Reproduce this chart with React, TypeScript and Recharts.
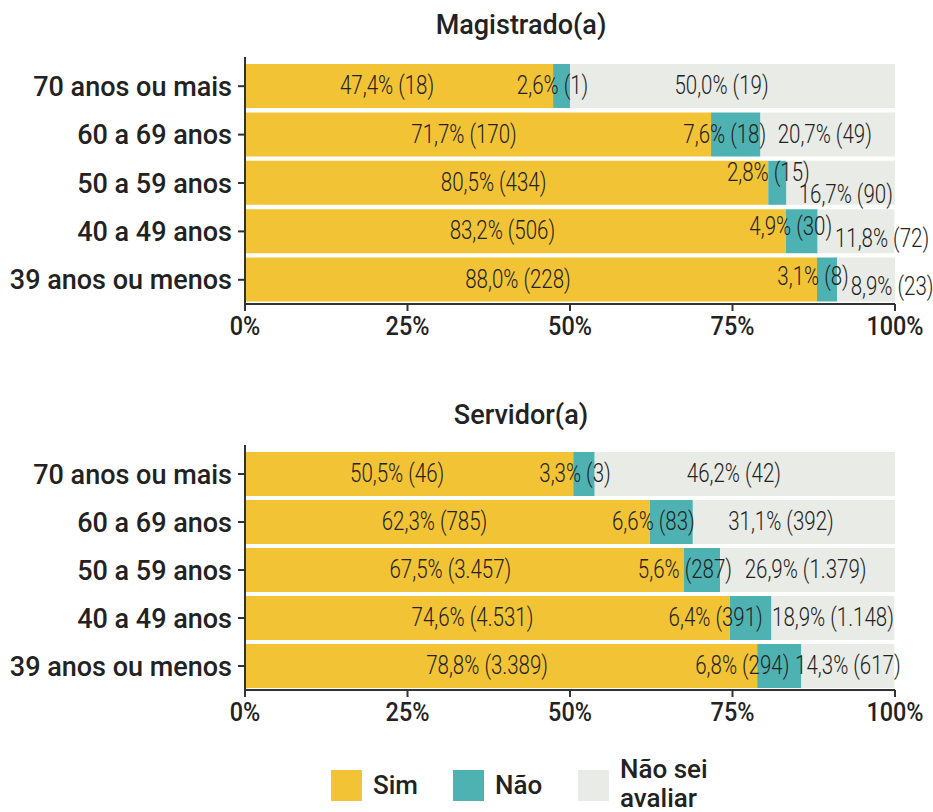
import React from 'react';
import { BarChart, Bar, XAxis, YAxis, LabelList } from 'recharts';

const categories = ['70 anos ou mais', '60 a 69 anos', '50 a 59 anos', '40 a 49 anos', '39 anos ou menos'];
const seriesNames = ['Sim', 'Não', 'Não sei avaliar'];
const xTicks = [0, 25, 50, 75, 100];

const magSimPct = [47.4, 71.7, 80.5, 83.2, 88.0];
const magSimN = [18, 170, 434, 506, 228];
const magNaoPct = [2.6, 7.6, 2.8, 4.9, 3.1];
const magNaoN = [1, 18, 15, 30, 8];
const magNsPct = [50.0, 20.7, 16.7, 11.8, 8.9];
const magNsN = [19, 49, 90, 72, 23];

const serSimPct = [50.5, 62.3, 67.5, 74.6, 78.8];
const serSimN = [46, 785, 3457, 4531, 3389];
const serNaoPct = [3.3, 6.6, 5.6, 6.4, 6.8];
const serNaoN = [3, 83, 287, 391, 294];
const serNsPct = [46.2, 31.1, 26.9, 18.9, 14.3];
const serNsN = [42, 392, 1379, 1148, 617];

const COLORS = ['#F2C335', '#4FB2B2', '#E9EBE7'];
const TEXT = '#222222';
const AXIS = '#333333';

// label nudges (layout only): [dx, dy] per row
const magNudge = {
  sim: [[-12, 0], [-14, 0], [-13, 0], [-13, 0], [-13, 0]],
  nao: [[-9, 0], [-11, 0], [-9, -10], [-11, -4], [-14, -3]],
  ns: [[-11, 0], [-3, 0], [5, 12], [26, 8], [26, 7]],
};
const serNudge = {
  sim: [[-12, 0], [-13, 0], [-14, 0], [-15, 0], [-14, 0]],
  nao: [[-9, 0], [-18, 0], [-17, 0], [-35, 0], [-37, 0]],
  ns: [[-11, 0], [-13, 0], [-2, 0], [0, 0], [0, 0]],
};

const fmtPct = (v: number) => v.toFixed(1).replace('.', ',') + '%';
const fmtN = (n: number) => String(n).replace(/\B(?=(\d{3})+(?!\d))/g, '.');

function build(sp: number[], sn: number[], np: number[], nn: number[], xp: number[], xn: number[]) {
  return categories.map((c, i) => ({
    cat: c,
    sim: sp[i], simN: sn[i],
    nao: np[i], naoN: nn[i],
    ns: xp[i], nsN: xn[i],
  }));
}

const magData = build(magSimPct, magSimN, magNaoPct, magNaoN, magNsPct, magNsN);
const serData = build(serSimPct, serSimN, serNaoPct, serNaoN, serNsPct, serNsN);

const makeLabel = (data: any[], key: string, nudges: number[][]) => (props: any) => {
  const { x, y, width, height, index } = props;
  const row = data[index];
  const [dx, dy] = nudges[index];
  const cx = Number(x) + Number(width) / 2 + dx;
  const cy = Number(y) + Number(height) / 2 + dy;
  const txt = `${fmtPct(row[key])} (${fmtN(row[key + 'N'])})`;
  return (
    <text
      transform={`translate(${cx},${cy}) scale(0.82,1)`}
      textAnchor="middle"
      dominantBaseline="central"
      fontFamily="Roboto"
      fontWeight={300}
      fontSize={25}
      fill={TEXT}
    >
      {txt}
    </text>
  );
};

const XTick = (props: any) => {
  const { x, y, payload } = props;
  return (
    <text
      transform={`translate(${x},${y}) scale(0.9,1)`}
      textAnchor="middle"
      dy="0.71em"
      fontFamily="Roboto"
      fontWeight={500}
      fontSize={26}
      fill={TEXT}
    >
      {`${payload.value}%`}
    </text>
  );
};

const tickStyleY = { fontFamily: 'Roboto', fontWeight: 500, fontSize: 27, fill: TEXT };

function Panel({ data, nudges, height, bottom }: any) {
  const keys = ['sim', 'nao', 'ns'];
  return (
    <BarChart
      width={933}
      height={height}
      data={data}
      layout="vertical"
      margin={{ top: 57, right: 38, left: 0, bottom }}
      barSize={44}
    >
      <XAxis
        type="number"
        domain={[0, 100]}
        ticks={xTicks}
        height={40}
        tickSize={7}
        tickMargin={6}
        axisLine={{ stroke: AXIS, strokeWidth: 2 }}
        tickLine={{ stroke: AXIS, strokeWidth: 2 }}
        tick={<XTick />}
        interval={0}
        allowDataOverflow
      />
      <YAxis
        type="category"
        dataKey="cat"
        width={245}
        padding={{ top: 5, bottom: 0 }}
        tickSize={7}
        tickMargin={6}
        axisLine={{ stroke: AXIS, strokeWidth: 2 }}
        tickLine={{ stroke: AXIS, strokeWidth: 2 }}
        tick={tickStyleY}
        interval={0}
      />
      {keys.map((k, i) => (
        <Bar key={k} dataKey={k} name={seriesNames[i]} stackId="a" fill={COLORS[i]} isAnimationActive={false}>
          <LabelList dataKey={k} content={makeLabel(data, k, (nudges as any)[k])} />
        </Bar>
      ))}
    </BarChart>
  );
}

const titleStyle: React.CSSProperties = {
  position: 'absolute',
  left: 0,
  width: 1042,
  textAlign: 'center',
  fontFamily: 'Roboto',
  fontWeight: 500,
  fontSize: 27,
  color: TEXT,
  lineHeight: '30px',
};

export default function App() {
  const legendX = [331, 453, 578];
  return (
    <div style={{ position: 'absolute', left: 0, top: 0, width: 933, height: 812, background: '#fff', overflow: 'hidden' }}>
      <div style={{ ...titleStyle, top: 10 }}>Magistrado(a)</div>
      <div style={{ position: 'absolute', left: 0, top: 0 }}>
        <Panel data={magData} nudges={magNudge} height={388} bottom={44} />
      </div>
      <div style={{ ...titleStyle, top: 400 }}>Servidor(a)</div>
      <div style={{ position: 'absolute', left: 0, top: 388 }}>
        <Panel data={serData} nudges={serNudge} height={424} bottom={82} />
      </div>
      {seriesNames.map((name, i) => (
        <div key={name} style={{ position: 'absolute', left: legendX[i], top: 770 }}>
          <div style={{ position: 'absolute', left: 0, top: 0, width: 31, height: 31, background: COLORS[i] }} />
          <div
            style={{
              position: 'absolute',
              left: 42,
              top: i === 2 ? -15 : 1,
              width: 120,
              fontFamily: 'Roboto',
              fontWeight: 500,
              fontSize: 26,
              lineHeight: '29px',
              color: TEXT,
            }}
          >
            {i === 2 ? (<>Não sei<br />avaliar</>) : name}
          </div>
        </div>
      ))}
    </div>
  );
}
